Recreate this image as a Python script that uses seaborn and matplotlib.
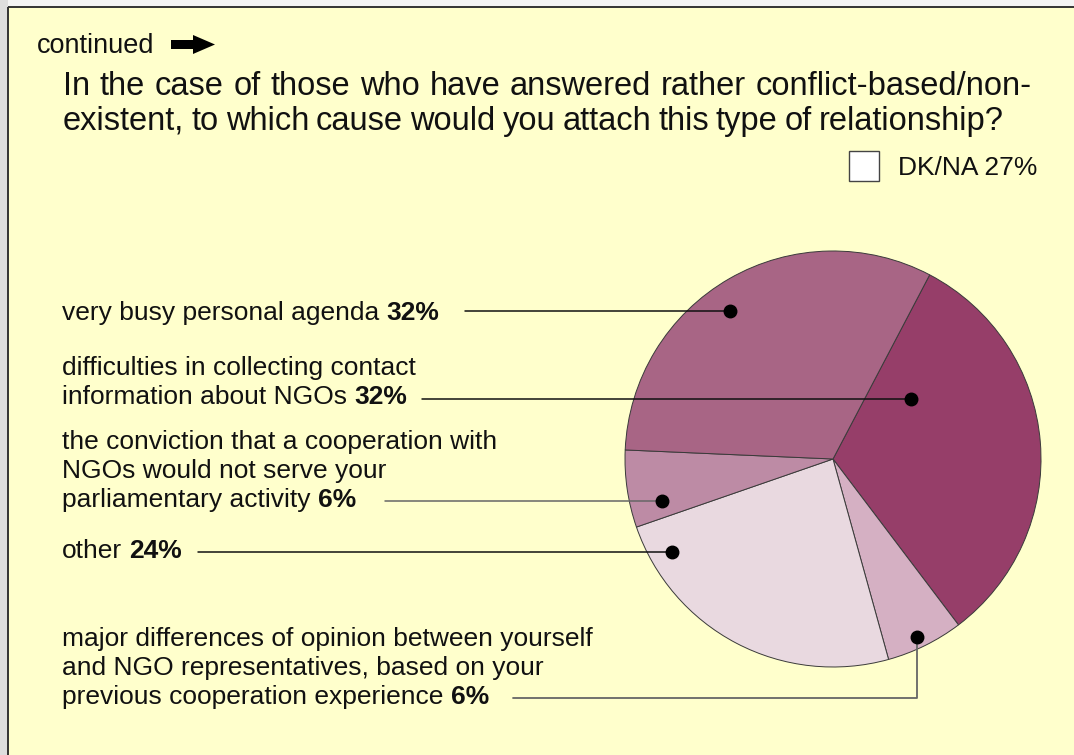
import matplotlib
matplotlib.use("Agg")
import matplotlib.pyplot as plt
import seaborn as sns
from matplotlib.patches import Rectangle, Polygon

# ---- data -------------------------------------------------------------
causes = [
    "very busy personal agenda",
    "difficulties in collecting contact information about NGOs",
    "the conviction that a cooperation with NGOs would not serve your parliamentary activity",
    "other",
    "major differences of opinion between yourself and NGO representatives, "
    "based on your previous cooperation experience",
]
shares = [32, 32, 6, 24, 6]
label_lines = [
    ["very busy personal agenda"],
    ["difficulties in collecting contact", "information about NGOs"],
    ["the conviction that a cooperation with", "NGOs would not serve your",
     "parliamentary activity"],
    ["other"],
    ["major differences of opinion between yourself",
     "and NGO representatives, based on your",
     "previous cooperation experience"],
]
slice_colors = ["#A86585", "#963E69", "#BD8BA5", "#E9D9E0", "#D5B0C3"]
dk_na_label = "DK/NA"
dk_na_share = 27
title_lines = [
    "In the case of those who have answered rather conflict-based/non-",
    "existent, to which cause would you attach this type of relationship?",
]
header = "continued"

# ---- layout (pixels, origin top-left) ---------------------------------
W, H = 1074, 755
CX, CY, R = 833, 459, 208
wedge_order = [1, 4, 3, 2, 0]          # clockwise from the top-right edge
start_angle = 62.3
# marker position inside each slice, in pie units (same order as causes)
anchors = [(-0.495, 0.713), (0.375, 0.290), (-0.821, -0.200),
           (-0.773, -0.449), (0.402, -0.854)]
label_x = 62
line_gap = 29
last_baselines = [320, 404, 507, 558, 704]
leader_starts = [465, 422, 385, 198, 513]
leader_colors = ["#111111", "#111111", "#666666", "#111111", "#666666"]
LABEL_FS = 19
TITLE_FS = 23.5
FONT = ["Liberation Sans", "DejaVu Sans"]

sns.set_theme(style="white")
plt.rcParams["font.family"] = FONT

fig = plt.figure(figsize=(W / 100, H / 100), dpi=100)
fig.patch.set_facecolor("#FFFFCC")

# pie axes: square box centred on the pie
pie_ax = fig.add_axes([(CX - R) / W, (H - CY - R) / H, 2 * R / W, 2 * R / H])
pie_ax.pie([shares[i] for i in wedge_order],
           colors=[slice_colors[i] for i in wedge_order],
           startangle=start_angle, counterclock=False, radius=1,
           wedgeprops=dict(edgecolor="#3a3a3a", linewidth=0.7))
pie_ax.set_xlim(-1, 1)
pie_ax.set_ylim(-1, 1)
pie_ax.axis("off")

# overlay axes in pixel coordinates for the annotations
ov = fig.add_axes([0, 0, 1, 1], zorder=5)
ov.set_xlim(0, W)
ov.set_ylim(H, 0)
ov.axis("off")
ov.patch.set_visible(False)

renderer = fig.canvas.get_renderer()


def text_width(s, size, weight="normal"):
    t = ov.text(0, 0, s, fontsize=size, fontweight=weight)
    w = t.get_window_extent(renderer).width
    t.remove()
    return w


# window frame
ov.add_patch(Rectangle((0, 0), W, 6.5, facecolor="#F4F4F4", edgecolor="none"))
ov.add_patch(Rectangle((0, 0), 7.5, H, facecolor="#DEDEDE", edgecolor="none"))
ov.plot([8, W], [6.8, 6.8], color="#333333", lw=1.4, solid_capstyle="butt")
ov.plot([8, 8], [6.8, H], color="#333333", lw=1.4, solid_capstyle="butt")

# header and arrow
ov.text(37, 53, header, fontsize=19.5, va="baseline", ha="left", color="#111111")
ov.add_patch(Polygon([(171, 40), (193, 40), (193, 35), (215, 44.5),
                      (193, 54), (193, 49), (171, 49)],
                     closed=True, facecolor="black", edgecolor="none"))

# justified question
title_spans = [(63, 1032, 95), (63, 1004, 130)]
for line, (x0, x1, yb) in zip(title_lines, title_spans):
    words = line.split(" ")
    widths = [text_width(w, TITLE_FS) for w in words]
    gap = (x1 - x0 - sum(widths)) / (len(words) - 1)
    x = x0
    for w, wd in zip(words, widths):
        ov.text(x, yb, w, fontsize=TITLE_FS, va="baseline", ha="left",
                color="#111111")
        x += wd + gap

# DK/NA legend entry
ov.add_patch(Rectangle((849, 151), 30, 30, facecolor="white",
                       edgecolor="#444444", lw=1.0))
ov.text(898, 175, f"{dk_na_label} {dk_na_share}%", fontsize=LABEL_FS,
        va="baseline", ha="left", color="#111111")

# slice labels, leader lines and markers
space_w = text_width("a a", LABEL_FS) - text_width("aa", LABEL_FS)
for i in range(len(causes)):
    lines = label_lines[i]
    base = last_baselines[i]
    n = len(lines)
    for k, ln in enumerate(lines):
        yb = base - (n - 1 - k) * line_gap
        ov.text(label_x, yb, ln, fontsize=LABEL_FS, va="baseline", ha="left",
                color="#111111")
    tail = text_width(lines[-1], LABEL_FS)
    ov.text(label_x + tail + space_w, base, f"{shares[i]}%", fontsize=LABEL_FS,
            fontweight="bold", va="baseline", ha="left", color="#111111")

    ax_, ay_ = anchors[i]
    dx, dy = CX + ax_ * R, CY - ay_ * R
    if i == 4:
        ly = 698
        ov.plot([leader_starts[i], dx, dx], [ly, ly, dy],
                color=leader_colors[i], lw=1.3)
    else:
        ov.plot([leader_starts[i], dx], [dy, dy], color=leader_colors[i], lw=1.1)
    ov.plot(dx, dy, "o", color="black", markersize=9)

fig.savefig("out.png", dpi=100, facecolor=fig.get_facecolor())
